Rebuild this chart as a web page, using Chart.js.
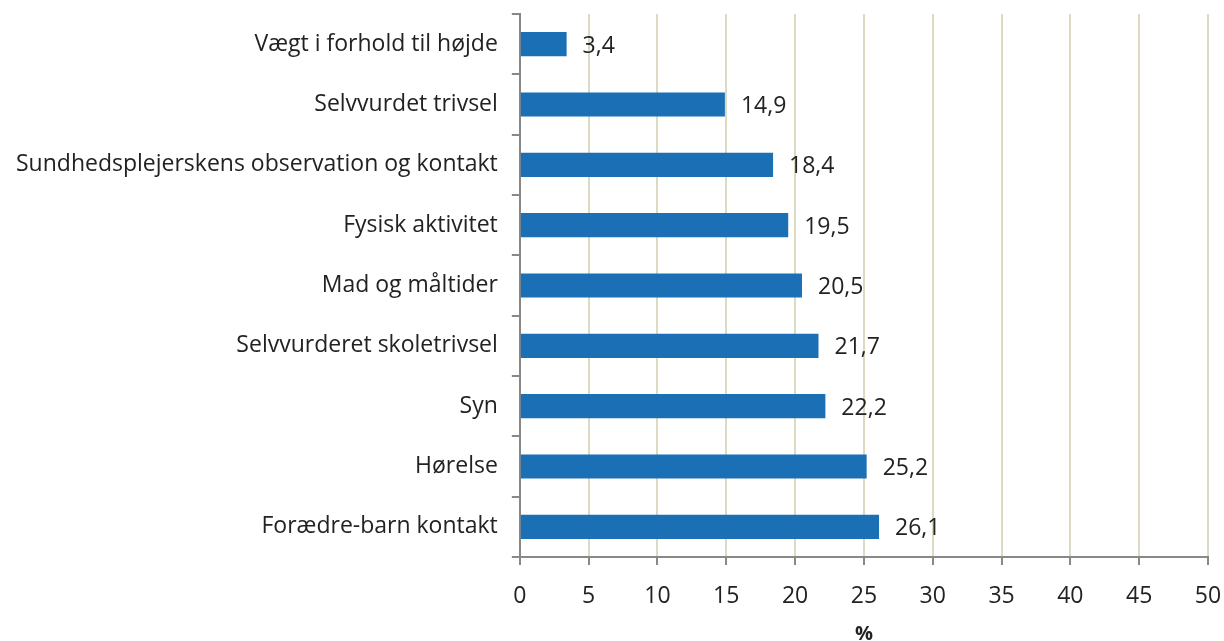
<!DOCTYPE html>
<html>
<head>
<meta charset="utf-8">
<script src="https://cdn.jsdelivr.net/npm/chart.js@4"></script>
<style>
  html, body { margin: 0; padding: 0; background: #fff; }
  #wrap { width: 1224px; height: 641px; }
</style>
</head>
<body>
<div id="wrap"><canvas id="chart"></canvas></div>
<script>
// categories, top to bottom
const categories = [
  'Vægt i forhold til højde',
  'Selvvurdet trivsel',
  'Sundhedsplejerskens observation og kontakt',
  'Fysisk aktivitet',
  'Mad og måltider',
  'Selvvurderet skoletrivsel',
  'Syn',
  'Hørelse',
  'Forædre-barn kontakt'
];
const values = [3.4, 14.9, 18.4, 19.5, 20.5, 21.7, 22.2, 25.2, 26.1];
const xTicks = [0, 5, 10, 15, 20, 25, 30, 35, 40, 45, 50];

const fontFamily = '"Open Sans", "Liberation Sans", sans-serif';
const fontSize = 23;

// draw the value next to each bar, danish decimal comma
const valueLabels = {
  id: 'valueLabels',
  afterDatasetsDraw(chart) {
    const ctx = chart.ctx;
    const meta = chart.getDatasetMeta(0);
    ctx.save();
    ctx.font = fontSize + 'px ' + fontFamily;
    ctx.fillStyle = '#222';
    ctx.textBaseline = 'middle';
    ctx.textAlign = 'left';
    meta.data.forEach((bar, i) => {
      ctx.fillText(values[i].toFixed(1).replace('.', ','), bar.x + 16, bar.y + 2);
    });
    ctx.restore();
  }
};

const ctx = document.getElementById('chart').getContext('2d');
new Chart(ctx, {
  type: 'bar',
  data: {
    labels: categories,
    datasets: [{
      data: values,
      backgroundColor: '#1b6fb5',
      barPercentage: 0.4,
      categoryPercentage: 1.0
    }]
  },
  options: {
    indexAxis: 'y',
    responsive: true,
    maintainAspectRatio: false,
    animation: false,
    layout: { padding: { top: 14, right: 16, bottom: 0, left: 2 } },
    plugins: {
      legend: { display: false },
      tooltip: { enabled: false }
    },
    scales: {
      x: {
        min: 0,
        max: 50,
        afterBuildTicks(axis) { axis.ticks = xTicks.map(v => ({ value: v })); },
        afterFit(axis) {
          axis.height = 84;
          axis.paddingRight = 0;
          axis.paddingLeft = 0;
        },
        grid: {
          color: '#ddd9c3',
          lineWidth: 2,
          tickColor: '#888',
          tickLength: 8
        },
        border: { color: '#888', width: 2 },
        ticks: {
          color: '#222',
          font: { family: fontFamily, size: fontSize },
          padding: 18,
          maxRotation: 0
        },
        title: {
          display: true,
          text: '%',
          color: '#222',
          font: { family: fontFamily, size: 20, weight: 'bold' },
          padding: { top: 6, bottom: -5 }
        }
      },
      y: {
        afterFit(axis) {
          axis.paddingTop = 0;
          axis.paddingBottom = 0;
        },
        grid: {
          offset: true,
          drawOnChartArea: false,
          tickColor: '#888',
          tickLength: 8,
          lineWidth: 2
        },
        border: { color: '#888', width: 2 },
        ticks: {
          color: '#222',
          font: { family: fontFamily, size: fontSize },
          padding: 14
        }
      }
    }
  },
  plugins: [valueLabels]
});
</script>
</body>
</html>
